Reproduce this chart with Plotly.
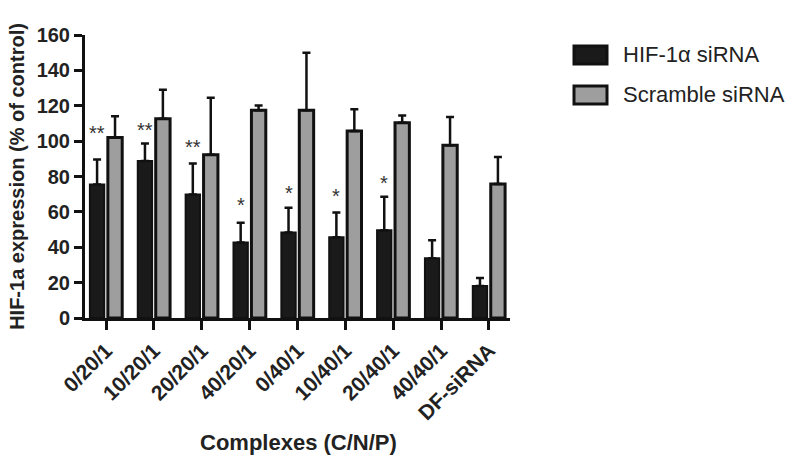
import plotly.graph_objects as go

categories = ["0/20/1", "10/20/1", "20/20/1", "40/20/1", "0/40/1",
              "10/40/1", "20/40/1", "40/40/1", "DF-siRNA"]
hif_values = [75.5, 88.7, 69.8, 42.7, 48.3, 45.7, 49.6, 33.8, 18.1]
hif_err = [14.1, 10.0, 17.6, 11.1, 14.0, 13.9, 18.9, 10.2, 4.5]
scr_values = [102.0, 112.6, 92.3, 117.5, 117.5, 105.7, 110.4, 97.7, 75.8]
scr_err = [12.0, 16.4, 32.2, 2.7, 32.5, 12.3, 4.1, 15.9, 15.2]
star_labels = ["**", "**", "**", "*", "*", "*", "*", "", ""]
star_heights = [106.2, 108.0, 98.3, 65.7, 72.3, 70.4, 77.9, 0, 0]

FONT = "Liberation Sans, Arial, sans-serif"

fig = go.Figure()
fig.add_trace(go.Bar(
    x=categories, y=hif_values, name="HIF-1α siRNA",
    marker=dict(color="#1a1a1a", line=dict(color="#111111", width=2)),
    error_y=dict(type="data", symmetric=False, array=hif_err,
                 arrayminus=[0] * len(hif_err), color="#111111",
                 thickness=2.5, width=4),
))
fig.add_trace(go.Bar(
    x=categories, y=scr_values, name="Scramble siRNA",
    marker=dict(color="#9e9e9e", line=dict(color="#111111", width=3)),
    error_y=dict(type="data", symmetric=False, array=scr_err,
                 arrayminus=[0] * len(scr_err), color="#111111",
                 thickness=2.5, width=4),
))

for i, (lab, h) in enumerate(zip(star_labels, star_heights)):
    if lab:
        fig.add_annotation(x=i, y=h, text=lab, showarrow=False,
                           xshift=-9, yanchor="middle", yshift=-3,
                           font=dict(family=FONT, size=20, color="#333333"))

# custom legend (large swatches as in the reference)
L, R, T, B = 85, 290, 35, 142
pw, ph = 800 - L - R, 460 - T - B
def px(x):
    return (x - L) / pw
def py(y):
    return (460 - B - y) / ph

legend_items = [("HIF-1α siRNA", "#1a1a1a", 45), ("Scramble siRNA", "#9e9e9e", 85)]
for name, col, top in legend_items:
    fig.add_shape(type="rect", xref="paper", yref="paper",
                  x0=px(574), x1=px(607), y0=py(top + 19), y1=py(top + 1),
                  fillcolor=col, line=dict(color="#111111", width=3))
    fig.add_annotation(xref="paper", yref="paper", x=px(621), y=py(top + 10),
                       text=name, showarrow=False, xanchor="left",
                       yanchor="middle",
                       font=dict(family=FONT, size=22, color="#222222"))

# x-axis title placed as in the reference
fig.add_annotation(xref="paper", yref="paper", x=px(298), y=py(442),
                   text="<b>Complexes (C/N/P)</b>", showarrow=False,
                   xanchor="center", yanchor="middle",
                   font=dict(family=FONT, size=22, color="#222222"))

fig.update_layout(
    width=800, height=460,
    margin=dict(l=L, r=R, t=T, b=B, autoexpand=False),
    paper_bgcolor="white", plot_bgcolor="white",
    barmode="group", bargap=0.25, bargroupgap=0.2,
    showlegend=False,
    font=dict(family=FONT, color="#222222"),
)
fig.update_xaxes(
    range=[-0.44, 8.44], showline=True, linecolor="#111111", linewidth=3,
    ticks="outside", ticklen=9, tickwidth=3, tickcolor="#111111",
    tickangle=-45, showgrid=False, zeroline=False, automargin=False,
    tickfont=dict(family=FONT, size=21, color="#222222", weight="bold"),
)
fig.update_yaxes(
    range=[0, 160], tickvals=[0, 20, 40, 60, 80, 100, 120, 140, 160],
    showline=True, linecolor="#111111", linewidth=3,
    ticks="outside", ticklen=8, tickwidth=3, tickcolor="#111111",
    showgrid=False, zeroline=False, automargin=False,
    tickfont=dict(family=FONT, size=20, color="#222222", weight="bold"),
    title=dict(text="<b>HIF-1a expression (% of control)</b>", standoff=7,
               font=dict(family=FONT, size=20, color="#222222")),
)

fig.write_html("out.html", config={"displayModeBar": False},
               post_script="document.body.style.margin='0';")
